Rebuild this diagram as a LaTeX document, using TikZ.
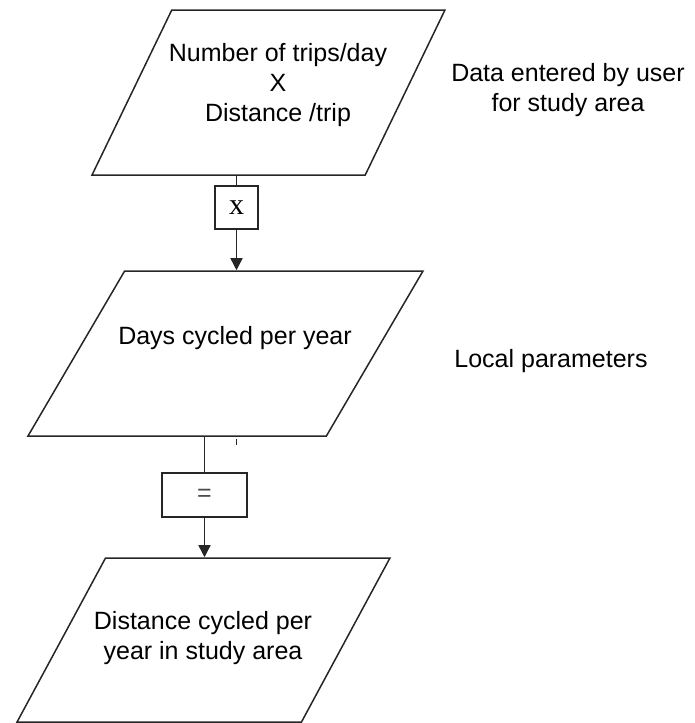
\documentclass[tikz,border=0pt]{standalone}
\usepackage{fontspec}
\setmainfont{Liberation Sans}
\newfontfamily\timesfont{Liberation Serif}
\usetikzlibrary{shapes.geometric,arrows.meta,calc}

\begin{document}
\begin{tikzpicture}[x=1pt,y=-1pt,line width=1.5pt,draw=black!85,
    font=\fontsize{25}{30}\selectfont,
    para/.style={draw,trapezium,trapezium stretches},
    opbox/.style={draw,inner sep=0pt},
    arr/.style={-{Triangle[width=12pt,length=12pt]}}]
  \useasboundingbox (0,0) rectangle (695,723);
  % input block
  \node[para,trapezium left angle=67.6,trapezium right angle=112.4,
    minimum width=353pt,minimum height=165pt] (trips) at (268.5,92.5) {};
  \node[align=center] (tripstxt) at (278,85.5) {
    Number of trips/day\\
    X\\
    Distance /trip};
  \node[align=center] (usernote) at (568,90.5) {
    Data entered by user\\
    for study area};
  \node[opbox,minimum width=43pt,minimum height=43pt,
    font=\timesfont\fontsize{30}{34}\selectfont] (xbox) at (236.5,207.5) {x};
  % local parameters
  \node[para,trapezium left angle=64.4,trapezium right angle=115.6,
    minimum width=395pt,minimum height=165pt] (days) at (225.5,353.5) {};
  \node (daystxt) at (235,338.5) {Days cycled per year};
  \node (localnote) at (551,361.5) {Local parameters};
  \node[opbox,minimum width=85pt,minimum height=44pt,text=black!70] (eqbox) at (204.5,495) {=};
  % result
  \node[para,trapezium left angle=65.7,trapezium right angle=114.3,
    minimum width=373pt,minimum height=164pt] (dist) at (203.5,640) {};
  \node[align=center] (disttxt) at (203,638.5) {
    Distance cycled per\\
    year in study area};
  \coordinate (stub) at ($(xbox.south |- days.south)+(0,8)$);
  \draw (xbox.north |- trips.south) -- (xbox);
  \draw[arr] (xbox) -- (xbox.south |- days.north);
  \draw (eqbox.north |- days.south) -- (eqbox);
  \draw[arr] (eqbox) -- (eqbox.south |- dist.north);
  \draw ($(xbox.south |- days.south)+(0,2)$) -- (stub);
\end{tikzpicture}
\end{document}
